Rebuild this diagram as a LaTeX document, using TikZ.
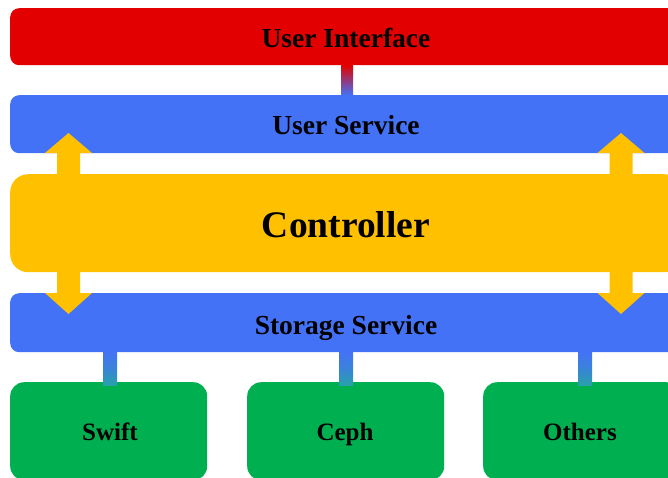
\documentclass[tikz,border=0pt]{standalone}
\usepackage{fontspec}
\setmainfont{Liberation Serif}
\usetikzlibrary{calc}
\definecolor{uired}{RGB}{226,0,0}
\definecolor{svcblue}{RGB}{68,114,246}
\definecolor{ctrlyellow}{RGB}{255,192,0}
\definecolor{storegreen}{RGB}{0,176,80}
\definecolor{linkteal}{RGB}{40,160,170}
\tikzset{
  bar/.style={draw=none, rounded corners=9pt, minimum width=672pt, anchor=north west,
              inner sep=0pt},
  barlabel/.style={anchor=base, inner sep=0pt, font=\fontsize{27.5}{30}\bfseries},
  backend/.style={draw=none, fill=storegreen, rounded corners=14pt, minimum width=197pt,
              minimum height=98pt, anchor=north west, inner sep=0pt},
  backendlabel/.style={anchor=base, inner sep=0pt, font=\fontsize{25}{28}\bfseries},
  biarrow/.style={fill=ctrlyellow, draw=none}
}
\begin{document}
\begin{tikzpicture}[x=1pt, y=-1pt]
\useasboundingbox (0,0) rectangle (668,477);
\clip (0,0) rectangle (668,477);

% layers
\node[bar, fill=uired, minimum height=57pt] (ui) at (10,8) {};
\node[barlabel] (uit) at (346,47) {User Interface};
\node[bar, fill=svcblue, minimum height=58pt] (us) at (10,95) {};
\node[bar, fill=ctrlyellow, minimum height=98pt, rounded corners=18pt] (ctrl) at (10,174) {};
\node[bar, fill=svcblue, minimum height=59pt] (ss) at (10,293) {};

% storage back ends
\node[backend] (swift) at (10,382) {};
\node[backend] (ceph) at (247,382) {};
\node[backend] (others) at (483,382) {};

% connectors
\shade[top color=uired, bottom color=svcblue]
  ([xshift=-6pt]ui.south -| 347,0) rectangle ([xshift=6pt]us.north -| 347,0);
\foreach \n/\x in {swift/110, ceph/346, others/585} {
  \shade[top color=svcblue, bottom color=linkteal, middle color=svcblue!60!linkteal]
    ($(ss.south -| \x,0)+(-7,0)$) rectangle ($(\n.north -| \x,0)+(7,3)$);
}

% double arrows between the service layers
\foreach \c in {68.5, 621} {
  \fill[biarrow] (\c,133) -- ++(23.5,20) -- ++(-12,0) -- ++(0,140) -- ++(12,0)
     -- (\c,314) -- ++(-23.5,-21) -- ++(12,0) -- ++(0,-140) -- ++(-12,0) -- cycle;
}

% labels
\node[barlabel] (ust) at (346,134) {User Service};
\node[barlabel, font=\fontsize{37.5}{40}\bfseries] (ctrlt) at (346,237) {Controller};
\node[barlabel] (sst) at (346,334) {Storage Service};
\node[backendlabel] at (110,440) {Swift};
\node[backendlabel] at (345,440) {Ceph};
\node[backendlabel] at (580,440) {Others};
\end{tikzpicture}
\end{document}
